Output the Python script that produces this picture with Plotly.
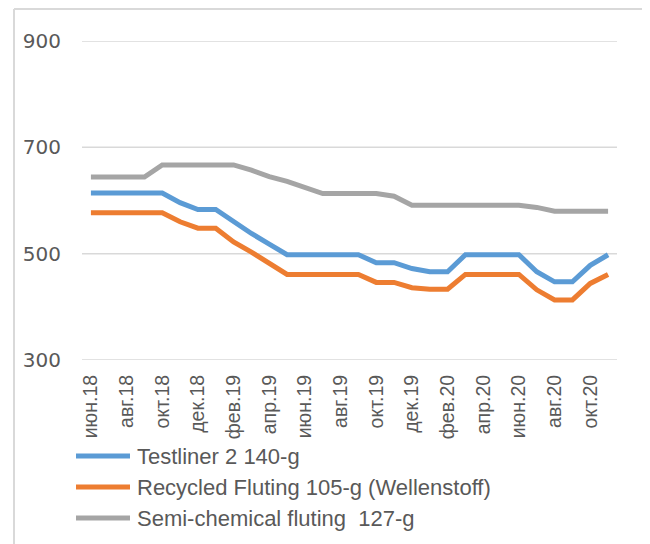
import plotly.graph_objects as go

months = ["июн.18", "июл.18", "авг.18", "сен.18", "окт.18", "ноя.18", "дек.18", "янв.19",
          "фев.19", "мар.19", "апр.19", "май.19", "июн.19", "июл.19", "авг.19", "сен.19",
          "окт.19", "ноя.19", "дек.19", "янв.20", "фев.20", "мар.20", "апр.20", "май.20",
          "июн.20", "июл.20", "авг.20", "сен.20", "окт.20", "ноя.20"]

testliner = [614, 614, 614, 614, 614, 596, 583, 583, 560, 538, 518, 498, 498, 498, 498,
             498, 483, 483, 472, 466, 466, 498, 498, 498, 498, 466, 447, 447, 478, 498]
recycled = [577, 577, 577, 577, 577, 560, 548, 548, 522, 503, 481, 461, 461, 461, 461,
            461, 446, 446, 436, 433, 433, 461, 461, 461, 461, 432, 413, 413, 444, 461]
semichem = [644, 644, 644, 644, 667, 667, 667, 667, 667, 657, 645, 636, 625, 613, 613,
            613, 613, 608, 591, 591, 591, 591, 591, 591, 591, 587, 580, 580, 580, 580]

series_names = ["Testliner 2 140-g", "Recycled Fluting 105-g (Wellenstoff)",
                "Semi-chemical fluting  127-g"]
series_values = [testliner, recycled, semichem]
colors = ["#5B9BD5", "#ED7D31", "#A5A5A5"]

y_ticks = [300, 500, 700, 900]
x_tick_labels = months[::2]

OFF = 8  # page body margin
W, H = 650, 544
L, R, T, B = 82 - OFF, 617 - OFF, 41 - OFF, 360 - OFF
pw, ph = R - L, B - T

def px(x):
    return (x - OFF - L) / pw

def py(y):
    return (B - (y - OFF)) / ph

fig = go.Figure()
for name, vals, c in zip(series_names, series_values, colors):
    fig.add_trace(go.Scatter(x=months, y=vals, mode="lines", name=name,
                             line=dict(color=c, width=5), showlegend=False))

shapes = []
annotations = []
# horizontal gridlines
for v in y_ticks:
    shapes.append(dict(type="line", xref="paper", yref="y", x0=0, x1=1, y0=v, y1=v,
                       layer="below", line=dict(color="#D9D9D9", width=1.5)))
# chart border (left and top)
shapes.append(dict(type="line", xref="paper", yref="paper", x0=px(14), x1=px(14),
                   y0=py(9), y1=py(600), line=dict(color="#D9D9D9", width=2)))
shapes.append(dict(type="line", xref="paper", yref="paper", x0=px(14), x1=px(700),
                   y0=py(9), y1=py(9), line=dict(color="#D9D9D9", width=2)))
# legend
leg_y = [456, 487, 518]
for name, c, ly in zip(series_names, colors, leg_y):
    shapes.append(dict(type="line", xref="paper", yref="paper", x0=px(76), x1=px(130),
                       y0=py(ly), y1=py(ly), line=dict(color=c, width=5)))
    annotations.append(dict(xref="paper", yref="paper", x=px(135), y=py(ly),
                            xanchor="left", yanchor="middle", text=name, showarrow=False,
                            font=dict(family="Liberation Sans, Arial", size=22, color="#595959")))

fig.update_layout(
    width=W, height=H,
    margin=dict(l=L, r=W - R, t=T, b=H - B, pad=0),
    paper_bgcolor="white", plot_bgcolor="white",
    shapes=shapes, annotations=annotations,
    font=dict(family="Liberation Sans, Arial", color="#595959"),
    xaxis=dict(type="category", categoryorder="array", categoryarray=months,
               range=[-0.5, len(months) - 0.5], tickmode="array",
               tickvals=x_tick_labels, ticktext=x_tick_labels, tickangle=-90,
               tickfont=dict(size=19.5, color="#595959"), showgrid=False,
               showline=False, zeroline=False, ticks="", ticklabelstandoff=10),
    yaxis=dict(range=[300, 900], tickmode="array", tickvals=y_ticks,
               tickfont=dict(family="DejaVu Sans", size=20, color="#595959"), showgrid=False,
               zeroline=False, showline=False, ticks="", ticklabelstandoff=20),
)

fig.write_html("out.html")
